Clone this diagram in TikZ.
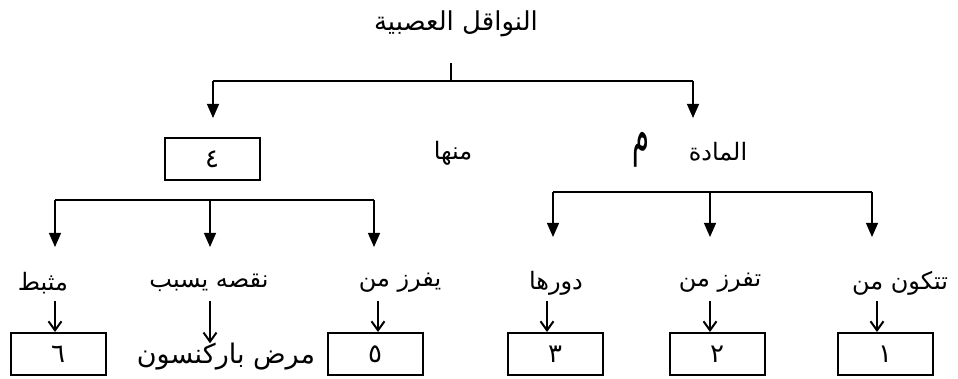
\documentclass[tikz,border=0pt]{standalone}
\usepackage{fontspec}
\newfontfamily\arabicfont[Script=Arabic]{DejaVu Sans}
\TeXXeTstate=1
\usetikzlibrary{arrows.meta}

\begin{document}
\begin{tikzpicture}[x=1pt, y=-1pt,
    word/.style={inner sep=0pt, font=\arabicfont\fontsize{24}{26}\selectfont},
    numbox/.style={draw, line width=2pt, minimum width=95pt, minimum height=42pt,
                   inner sep=0pt, font=\arabicfont\fontsize{26}{28}\selectfont},
    main arrow/.style={line width=1.2pt, -{Triangle[width=12pt,length=14pt]}},
    short arrow/.style={line width=2pt, -{Straight Barb[width=13pt,length=9pt]}}]

  \useasboundingbox (0,0) rectangle (958,379);

  % top
  \node[word, font=\arabicfont\fontsize{26}{28}\selectfont] (title) at (456,24) {\beginR النواقل العصبية\endR};
  \coordinate (stem) at (451,63);
  \coordinate (barL) at (213,81);
  \coordinate (barR) at (693,81);

  % second level
  \node[numbox] (b4) at (212,159) {\beginR ٤\endR};
  \node[word] (minha) at (453,153) {\beginR منها\endR};
  \node[word, font=\arabicfont\fontsize{50}{52}\selectfont] (mim) at (641,150)
       {\scalebox{0.55}[1.15]{\beginR م\endR}};
  \node[word] (mada) at (718,152) {\beginR المادة\endR};

  \coordinate (subL) at (55,200);
  \coordinate (subR) at (553,192);

  % third level
  \node[word] (w6) at (43,283) {\beginR مثبط\endR};
  \node[word] (wp) at (209,283) {\beginR نقصه يسبب\endR};
  \node[word] (w5) at (400,283) {\beginR يفرز من\endR};
  \node[word] (w3) at (556,283) {\beginR دورها\endR};
  \node[word] (w2) at (720,283) {\beginR تفرز من\endR};
  \node[word] (w1) at (900,283) {\beginR تتكون من\endR};

  \node[numbox] (b6) at (58,354) {\beginR ٦\endR};
  \node[word, font=\arabicfont\fontsize{27}{29}\selectfont] (park) at (226,357) {\beginR مرض باركنسون\endR};
  \node[numbox] (b5) at (375,354) {\beginR ٥\endR};
  \node[numbox] (b3) at (555,354) {\beginR ٣\endR};
  \node[numbox] (b2) at (717,354) {\beginR ٢\endR};
  \node[numbox] (b1) at (885,354) {\beginR ١\endR};

  % connectors
  \draw[line width=1.2pt] (stem) -- (stem |- barL);
  \draw[line width=1.2pt] (barL) -- (barR);
  \draw[main arrow] (barL) -- ++(0,37);
  \draw[main arrow] (barR) -- ++(0,37);

  \draw[line width=1.2pt] (subL) -- (374,200);
  \draw[main arrow] (subL) -- ++(0,47);
  \draw[main arrow] (210,200) -- ++(0,47);
  \draw[main arrow] (374,200) -- ++(0,47);

  \draw[line width=1.2pt] (subR) -- (872,192);
  \draw[main arrow] (subR) -- ++(0,45);
  \draw[main arrow] (710,192) -- ++(0,45);
  \draw[main arrow] (872,192) -- ++(0,45);

  \draw[short arrow] (55,301) -- (55,301 |- b6.north);
  \draw[short arrow] (210,301) -- (210,301 |- park.north);
  \draw[short arrow] (378,301) -- (378,301 |- b5.north);
  \draw[short arrow] (547,301) -- (547,301 |- b3.north);
  \draw[short arrow] (710,301) -- (710,301 |- b2.north);
  \draw[short arrow] (877,301) -- (877,301 |- b1.north);

\end{tikzpicture}
\end{document}
